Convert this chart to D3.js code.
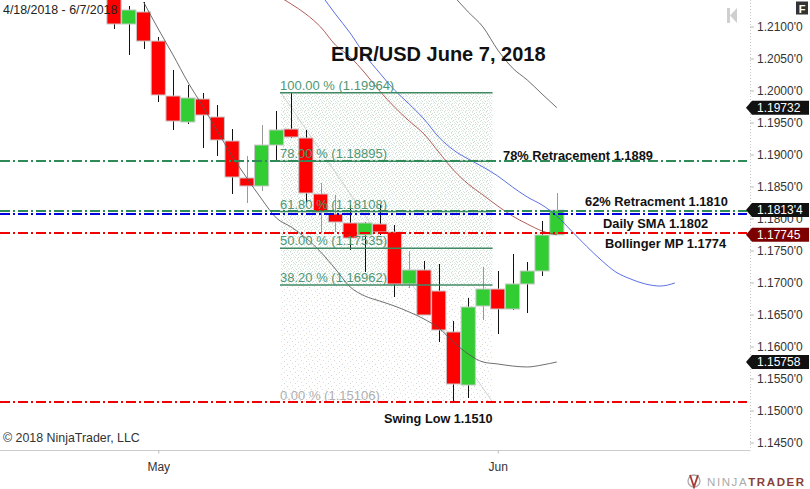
<!DOCTYPE html>
<html><head><meta charset="utf-8">
<script src="https://d3js.org/d3.v7.min.js"></script>
<style>html,body{margin:0;padding:0;background:#fff}svg{display:block}text{font-family:"Liberation Sans",Arial,sans-serif}</style>
</head><body><svg id="c" width="810" height="489"></svg>
<script>
// trading days, index 0 = 26 Apr 2018
const dates=["4/26","4/27","4/30","5/1","5/2","5/3","5/4","5/7","5/8","5/9","5/10","5/11","5/14","5/15","5/16","5/17","5/18","5/21","5/22","5/23","5/24","5/25","5/28","5/29","5/30","5/31","6/1","6/4","6/5","6/6","6/7"];
const open =[1.21492,1.21039,1.21227,1.20773,1.19914,1.19508,1.19867,1.19586,1.19211,1.18633,1.18508,1.19148,1.19398,1.19258,1.18383,1.1807,1.1793,1.17742,1.17914,1.17789,1.16977,1.17195,1.16867,1.16227,1.15398,1.16633,1.16898,1.16586,1.16977,1.1718,1.17745];
const close=[1.21039,1.21258,1.20773,1.1993,1.19523,1.19883,1.19617,1.19227,1.18648,1.18508,1.19148,1.19383,1.19273,1.18398,1.18102,1.17945,1.17695,1.1793,1.17789,1.16977,1.17195,1.16492,1.16258,1.15414,1.16617,1.16898,1.16586,1.16977,1.1718,1.17742,1.1813];
const high =[1.2154,1.2132,1.21383,1.20836,1.2032,1.20086,1.19961,1.19773,1.19398,1.18977,1.19461,1.1968,1.19964,1.19383,1.18555,1.18367,1.18211,1.17945,1.18211,1.17898,1.17492,1.17336,1.17289,1.16398,1.16758,1.17242,1.1718,1.17445,1.1732,1.17961,1.18398];
const low  =[1.20961,1.20555,1.20648,1.1982,1.19383,1.19477,1.19102,1.18977,1.18383,1.18242,1.1843,1.18914,1.19258,1.18242,1.17773,1.17789,1.17508,1.17164,1.17742,1.16773,1.16914,1.16492,1.1607,1.15148,1.15195,1.16414,1.16195,1.1657,1.16523,1.17102,1.17745];
const fadedWicks=[9,10,14,15,20,25,30];
// moving averages: first candle index, then values
const smaShortStart=2, smaShort=[1.21383,1.20961,1.20555,1.20133,1.19758,1.19367,1.18977,1.18633,1.18305,1.18008,1.17867,1.17695,1.17477,1.17211,1.1693,1.16789,1.16711,1.16633,1.16539,1.1643,1.16289,1.1607,1.15883,1.15758,1.15727,1.15695,1.1568,1.15711,1.15758];
const upperStart=23, upper=[1.21477,1.21227,1.20992,1.20633,1.20352,1.20164,1.19945,1.19732];
const midStart=11, mid=[1.21492,1.21352,1.21195,1.20992,1.20711,1.20523,1.20273,1.19992,1.19742,1.19523,1.1932,1.19039,1.18758,1.18539,1.18367,1.18195,1.18039,1.17914,1.17805,1.17745];
const blueStart=14, blue=[1.21508,1.21195,1.20898,1.20555,1.20273,1.20008,1.19789,1.19555,1.19273,1.1907,1.1893,1.18805,1.18664,1.18492,1.18336,1.18211,1.18039,1.17805,1.1757,1.17352,1.17164,1.17055,1.16977,1.16945,1.16992];
// fibonacci retracement
const fibLevels=[1.19964,1.18895,1.18108,1.17535,1.16962,1.15106];
const fibLabels=["100.00 % (1.19964)","78.00 % (1.18895)","61.80 % (1.18108)","50.00 % (1.17535)","38.20 % (1.16962)","0.00 % (1.15106)"];
const fibTop=1.19964, fibMid=1.16962, fibBottom=1.15132;
// horizontal levels
const levelGreen=[1.18898,1.18122], levelBlue=[1.18078], levelRed=[1.17778,1.15132];
const priceTicks=[1.21,1.205,1.2,1.195,1.19,1.185,1.18,1.175,1.17,1.165,1.16,1.155,1.15,1.145];
const priceLabels=["1.2100'0","1.2050'0","1.2000'0","1.1950'0","1.1900'0","1.1850'0","1.1800'0","1.1750'0","1.1700'0","1.1650'0","1.1600'0","1.1550'0","1.1500'0","1.1450'0"];
const monthTicks=[3,26], monthLabels=["May","Jun"];
const flags=[["1.19732",1.19732,"#111"],["1.1813'4",1.18134,"#111"],["1.17745",1.17745,"#7d0000"],["1.15758",1.15758,"#111"]];
const notes=[["78% Retracement 1.1889",503,155.5,12.85],["62% Retracment 1.1810",585,201.5,12.85],["Daily SMA 1.1802",603,223.5,12.85],["Bollinger MP 1.1774",605,243.5,12.85],["Swing Low 1.1510",384,418.5,12.7]];

const svg=d3.select("#c");
const W=750,H=450.5;
const x=d3.scaleLinear().domain([0,38]).range([114,114+14.76*38]);
const y=d3.scaleLinear().domain([1.21,1.145]).range([26.5,442.5]);
const defs=svg.append("defs");
defs.append("clipPath").attr("id","plot").append("rect").attr("width",W).attr("height",H);
function stipple(id,size,dots){const p=defs.append("pattern").attr("id",id).attr("patternUnits","userSpaceOnUse").attr("width",size).attr("height",size);
  p.append("rect").attr("width",size).attr("height",size).attr("fill","#fff");
  dots.forEach(d=>p.append("rect").attr("x",d[0]).attr("y",d[1]).attr("width",1).attr("height",1).attr("fill",d[2]));}
stipple("dg",7,[[0,0,"#cfe2d6"],[3,0,"#dfe8e0"],[5,1,"#c9ddd8"],[1,2,"#e0e6da"],[4,2,"#cfe2d6"],[6,3,"#d8e4d6"],[2,3,"#c9dcd2"],[0,4,"#dde8e2"],[4,5,"#cfe0d2"],[1,5,"#d6e4dc"],[6,5,"#e0e8e0"],[3,6,"#cfe0d8"]]);
stipple("dp",11,[[1,1,"#d8cfe0"],[6,0,"#dfe6d8"],[9,3,"#e6d6d6"],[3,4,"#d4dce8"],[7,5,"#e0dcc8"],[0,7,"#d8e4dc"],[4,8,"#e4d4dc"],[9,9,"#d0d8e4"]]);

// fib shading
const plot=svg.append("g").attr("clip-path","url(#plot)");
const fx0=281,fx1=492.5;
plot.append("rect").attr("x",fx0).attr("width",fx1-fx0).attr("y",y(fibTop)).attr("height",y(fibMid)-y(fibTop)).attr("fill","url(#dg)");
plot.append("rect").attr("x",fx0).attr("width",fx1-fx0).attr("y",y(fibMid)).attr("height",y(fibBottom)-y(fibMid)).attr("fill","url(#dp)");
plot.append("line").attr("x1",fx0).attr("x2",fx1).attr("y1",y(fibTop)).attr("y2",y(fibBottom)).attr("stroke","#d0d0d0").attr("stroke-width",1);

// candles
const idx=d3.range(dates.length);
plot.selectAll("line.w").data(idx).join("line").attr("class","w")
 .attr("x1",i=>Math.round(x(i))+.5).attr("x2",i=>Math.round(x(i))+.5).attr("y1",i=>y(high[i])).attr("y2",i=>y(low[i]))
 .attr("stroke",i=>fadedWicks.includes(i)?"#999":"#111").attr("stroke-width",1);
plot.selectAll("rect.b").data(idx).join("rect").attr("class","b")
 .attr("x",i=>x(i)-7.1).attr("width",14.2)
 .attr("y",i=>y(Math.max(open[i],close[i]))).attr("height",i=>Math.abs(y(open[i])-y(close[i])))
 .attr("fill",i=>close[i]>=open[i]?"#32cd32":"#ff0000").attr("stroke","#c8c8c8").attr("stroke-width",1);

// lines
function curve(start,vals,color,w){const l=d3.line().x((d,i)=>x(start+i)).y(d=>y(d)).curve(d3.curveMonotoneX);
 plot.append("path").datum(vals).attr("d",l).attr("fill","none").attr("stroke",color).attr("stroke-width",w);}
curve(smaShortStart,smaShort,"#555",.85);
curve(upperStart,upper,"#555",.85);
curve(midStart,mid,"#a5403a",.85);
curve(blueStart,blue,"#3f55e0",.85);

// fib lines & labels
const fibG=plot.append("g");
fibG.selectAll("line").data(fibLevels.slice(0,5)).join("line").attr("x1",280).attr("x2",fx1).attr("y1",d=>y(d)).attr("y2",d=>y(d)).attr("stroke","#3f8a63").attr("stroke-width",1.5);
fibG.selectAll("text").data(fibLabels).join("text").attr("x",280).attr("y",(d,i)=>y(fibLevels[i])-(i==5?4:3)).text(d=>d)
 .attr("font-size",13).attr("fill",(d,i)=>i==5?"#b0b0b0":"#4f9676");

// level lines
const dash="10 3 2 3";
function level(vals,c){plot.selectAll(null).data(vals).join("line").attr("x1",0).attr("x2",747).attr("y1",d=>Math.round(y(d))).attr("y2",d=>Math.round(y(d))).attr("stroke",c).attr("stroke-width",2).attr("stroke-dasharray",dash);}
level(levelGreen,"#2e8b57");level(levelBlue,"#0000e0");level(levelRed,"#f00000");

// axes
const yAxis=d3.axisRight(y).tickValues(priceTicks).tickFormat((d,i)=>priceLabels[i]).tickSize(4).tickPadding(3);
const gy=svg.append("g").attr("transform",`translate(${W},0)`).call(yAxis);
gy.select(".domain").attr("stroke","#c8c8c8").attr("stroke-dasharray","1 2").attr("d",`M0.5,0V${H}`);
gy.selectAll("line").attr("stroke","#bbb");
gy.selectAll("text").attr("font-size",12).attr("fill","#333").attr("font-family",'"Liberation Sans",Arial,sans-serif');
const xAxis=d3.axisBottom(x).tickValues(monthTicks).tickFormat((d,i)=>monthLabels[i]).tickSize(3).tickPadding(9);
const gx=svg.append("g").attr("transform",`translate(0,${H})`).call(xAxis);
gx.select(".domain").attr("stroke","#ccc").attr("stroke-width",1.2).attr("d",`M0,0H${W}`);
gx.selectAll("line").attr("stroke","#bbb");
gx.selectAll("text").attr("font-size",12).attr("fill","#333").attr("font-family",'"Liberation Sans",Arial,sans-serif');

// price flags
const fl=svg.append("g").selectAll("g").data(flags).join("g").attr("transform",d=>`translate(0,${y(d[1])})`);
fl.append("path").attr("d","M746,0L752,-7H809V7H752Z").attr("fill",d=>d[2]);
fl.append("text").attr("x",757).attr("y",4.5).attr("font-size",12).attr("fill","#fff").text(d=>d[0]);

// titles
svg.append("text").attr("x",331).attr("y",61).attr("font-size",20).attr("font-weight","bold").attr("fill","#111").text("EUR/USD June 7, 2018");
svg.append("text").attr("x",3).attr("y",14).attr("font-size",12.4).attr("fill","#222").text("4/18/2018 - 6/7/2018");
svg.append("text").attr("x",3).attr("y",442).attr("font-size",12.4).attr("fill","#333").text("© 2018 NinjaTrader, LLC");
svg.selectAll(null).data(notes).join("text").attr("x",d=>d[1]).attr("y",d=>d[2]+4).text(d=>d[0]).attr("font-size",d=>d[3]).attr("font-weight","bold").attr("fill","#111");

// toolbar glyphs
svg.append("rect").attr("x",796).attr("y",1.5).attr("width",12).attr("height",13).attr("fill","#333");
svg.append("text").attr("x",802).attr("y",12.5).attr("text-anchor","middle").attr("font-size",11).attr("font-weight","bold").attr("fill","#fff").text("F");
svg.append("path").attr("d","M727,8h3v15h-3zM737,8v15l-7,-7.5z").attr("fill","#cfcfcf");

// logo
const logo=svg.append("g");
logo.append("circle").attr("cx",694).attr("cy",481).attr("r",6).attr("fill","none").attr("stroke","#aaa").attr("stroke-width",1.3);
logo.append("path").attr("d","M690,475L694,487L698,475").attr("fill","none").attr("stroke","#a83a32").attr("stroke-width",1.8);
logo.append("text").attr("x",707).attr("y",485.5).attr("font-size",11.5).attr("letter-spacing",1.6).attr("fill","#aaa").text("NINJA").append("tspan").attr("fill","#8a3f38").attr("font-weight","bold").text("TRADER");
</script></body></html>
